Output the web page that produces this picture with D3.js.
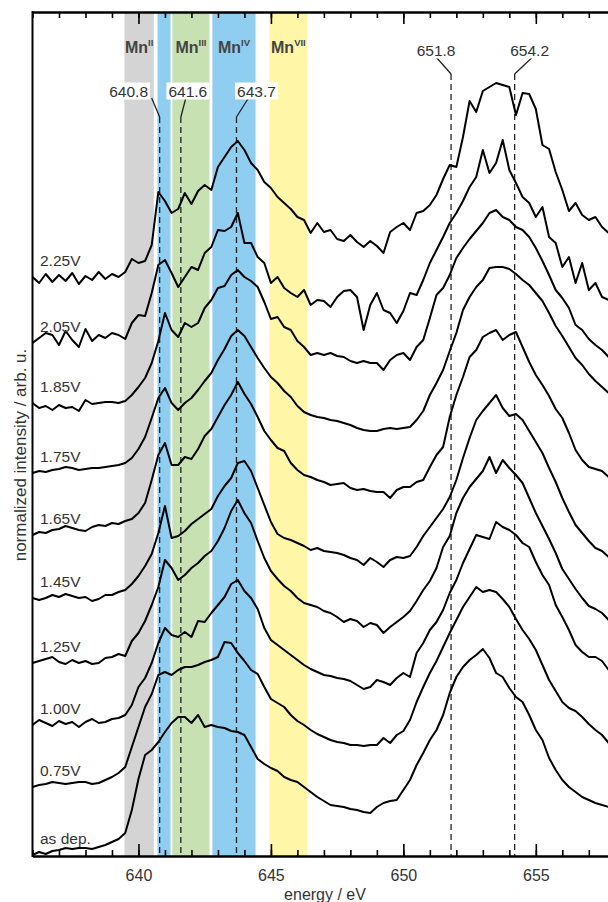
<!DOCTYPE html>
<html>
<head>
<meta charset="utf-8">
<script src="https://cdn.jsdelivr.net/npm/d3@7"></script>
<style>
body{margin:0;background:#fff;overflow:hidden;}
svg{display:block;font-family:"Liberation Sans",Arial,sans-serif;}
</style>
</head>
<body>
<div id="chart"></div>
<script>
// energy grid (eV), 0.25 eV step
var energy = d3.range(636, 658.001, 0.25);

var names = ["as dep.","0.75V","1.00V","1.25V","1.45V","1.65V","1.75V","1.85V","2.05V","2.25V"];
// vertical stacking offset of each spectrum (arb. u.)
var offsets = [1, 69, 131, 193, 258, 321, 383, 453, 513, 579];

// intensities relative to the offset
var sDep = [0,3,1,4,5,7,6,7,7,6,8,10,13,16,
  22,45,76,100,105,113,123,
  132,138,138,132,140,128,130,128,127,124,
  123,120,108,96,91,87,84,78,75,73,
  68,63,58,54,50,49,48,46,45,43,
  42,48,52,54,55,65,75,90,102,115,
  125,140,162,178,188,195,200,206,197,182,
  178,167,158,153,140,125,115,97,85,75,
  68,63,58,55,52,50,48,46];
var s075 = [0,2,3,5,4,3,4,5,5,3,4,7,10,14,
  20,40,60,80,93,112,115,
  112,117,120,120,122,125,127,130,145,144,
  134,126,117,113,100,88,84,80,72,66,
  62,57,53,50,47,45,44,42,42,41,
  42,42,49,44,52,56,67,85,100,114,
  126,140,154,167,180,190,200,195,197,195,
  188,180,168,157,148,137,122,107,96,85,
  79,76,70,63,57,52,44,42];
var s100 = [0,5,2,-1,4,1,3,-2,3,6,2,3,6,7,
  10,20,38,47,62,82,97,
  90,88,93,88,104,103,112,120,128,141,
  145,134,127,116,97,85,80,75,70,65,
  60,56,53,50,49,47,46,44,40,36,
  38,45,43,40,47,52,48,72,82,95,
  103,115,132,145,162,176,190,188,186,203,
  198,195,190,182,178,163,150,140,120,108,
  95,80,73,68,68,64,55,52];
var s125 = [0,2,4,6,1,-1,3,0,2,-1,0,5,6,9,
  7,22,30,42,58,76,103,
  95,83,88,95,100,107,112,122,135,152,
  163,150,140,122,105,92,84,77,72,65,
  60,58,56,52,50,46,41,44,42,36,
  40,38,30,36,41,46,52,62,73,82,
  95,116,127,150,165,176,184,192,206,190,
  203,195,188,180,165,150,137,124,110,94,
  84,74,65,57,54,50,43,42];
var s145 = [0,-2,0,3,1,4,2,0,1,-3,-1,3,3,6,
  8,14,22,32,44,65,92,
  60,62,67,74,79,84,89,102,112,120,
  135,137,127,110,93,76,64,60,58,55,
  52,48,50,47,46,45,43,40,38,33,
  40,36,31,38,41,40,42,51,62,71,
  80,89,101,118,140,160,178,187,195,203,
  190,182,184,178,167,156,145,130,116,100,
  86,73,65,57,50,47,41,40];
var s165 = [0,3,2,5,6,9,7,5,4,8,10,9,12,11,
  14,16,22,32,55,80,92,
  70,70,78,76,86,99,106,118,130,140,
  153,141,131,118,104,95,87,84,72,65,
  60,58,55,53,50,51,52,47,45,46,
  44,43,43,37,45,48,48,53,55,68,
  80,88,118,140,158,178,185,198,202,205,
  195,200,203,188,173,160,150,139,126,117,
  102,85,75,68,66,64,58,56];
var s175 = [0,2,1,3,4,6,5,3,4,5,5,6,7,8,
  10,15,24,36,55,75,85,
  70,63,70,75,83,92,100,113,124,137,
  143,137,126,115,105,96,90,82,76,67,
  61,58,56,55,53,52,50,48,45,43,
  42,42,44,45,44,45,46,53,62,78,
  90,103,122,140,163,176,186,193,205,206,
  206,204,199,193,188,180,172,160,147,137,
  126,115,108,99,92,86,80,76];
var s185 = [0,-5,-3,-7,-2,-5,-4,-8,3,-1,0,1,1,0,
  2,8,16,25,40,62,90,
  73,66,80,76,80,95,103,115,117,128,
  133,126,122,116,101,84,86,76,73,62,
  56,48,50,48,50,47,46,42,40,42,
  40,40,33,43,48,50,43,56,63,85,
  108,115,128,145,155,164,172,180,190,193,
  186,183,176,173,166,155,142,128,113,105,
  95,78,73,64,58,53,46,44];
var s205 = [0,5,10,8,-2,12,3,-4,14,2,8,5,10,8,
  4,20,28,27,50,78,83,
  70,56,66,76,73,90,96,113,112,116,
  130,100,100,86,80,60,66,55,50,46,
  53,38,43,42,36,46,52,53,46,13,
  38,50,33,30,20,32,50,48,63,80,
  93,106,120,130,142,156,166,193,170,180,
  203,173,160,146,140,126,136,106,100,76,
  86,60,80,53,60,46,43,40];
var s225 = [0,-6,3,-5,2,-4,4,-7,1,-3,5,-2,3,0,
  5,18,14,16,32,85,76,
  64,68,84,73,86,92,87,110,120,130,
  136,127,114,107,95,89,80,74,68,60,
  57,44,54,45,47,38,36,42,35,30,
  36,31,24,45,50,54,47,64,66,72,
  82,98,112,110,140,176,165,186,190,194,
  192,190,162,184,183,168,132,128,105,87,
  66,74,62,57,60,50,44,40];
var series = [sDep, s075, s100, s125, s145, s165, s175, s185, s205, s225];

// oxidation state bands (eV)
var bandLo = [639.47, 640.72, 641.28, 642.79, 644.94];
var bandHi = [640.58, 641.21, 642.68, 644.42, 646.38];
var bandState = ["II", "", "III", "IV", "VII"];
// marked peak positions (eV)
var peaks = [640.8, 641.6, 643.7, 651.8, 654.2];

var W = 608, H = 902;
var plotLeft = 32.5, plotTop = 12, plotBottom = 856;

var svg = d3.select("#chart").append("svg")
  .attr("width", W)
  .attr("height", H);

var x = d3.scaleLinear().domain([636, 658]).range([plotLeft, 615.3]);
var y = d3.scaleLinear().domain([0, 844]).range([plotBottom, plotTop]);

svg.append("clipPath").attr("id", "plotclip")
  .append("rect").attr("x", plotLeft).attr("y", plotTop)
  .attr("width", W - plotLeft).attr("height", plotBottom - plotTop);

var bandColor = ["#d4d4d4", "#8fcdf1", "#c7e1b2", "#8fcdf1", "#fff6a8"];
svg.selectAll("rect.band")
  .data(bandLo)
  .enter()
  .append("rect")
  .attr("class", "band")
  .attr("x", function(d) { return x(d); })
  .attr("y", plotTop)
  .attr("width", function(d, i) { return x(bandHi[i]) - x(d); })
  .attr("height", plotBottom - plotTop)
  .style("fill", function(d, i) { return bandColor[i]; });

// dashed peak markers
var lineTop = [117, 117, 117, 74, 74];
svg.selectAll("line.peak")
  .data(peaks)
  .enter()
  .append("line")
  .attr("x1", function(d) { return x(d); })
  .attr("x2", function(d) { return x(d); })
  .attr("y1", function(d, i) { return lineTop[i]; })
  .attr("y2", plotBottom)
  .style("stroke", "#222")
  .style("stroke-width", 1.3)
  .style("stroke-dasharray", "6,4");

// spectra
var line = d3.line()
  .x(function(d, i) { return x(energy[i]); });
var g = svg.append("g").attr("clip-path", "url(#plotclip)");
series.forEach(function(s, j) {
  line.y(function(d) { return y(offsets[j] + d); });
  g.append("path")
    .datum(s)
    .attr("d", line)
    .style("fill", "none")
    .style("stroke", "#000")
    .style("stroke-width", 2)
    .style("stroke-linejoin", "round");
});

// spectrum labels
svg.selectAll("text.lab")
  .data(names)
  .enter()
  .append("text")
  .attr("x", 40)
  .attr("y", function(d, i) { return y(offsets[i]) - 11; })
  .style("font-size", "15.5px")
  .style("fill", "#333")
  .text(function(d) { return d; });

// axes
var minor = d3.range(636, 659);
var major = [640, 645, 650, 655];
svg.append("g").attr("transform", "translate(0," + plotBottom + ")")
  .call(d3.axisBottom(x).tickValues(minor).tickSizeInner(-6).tickSizeOuter(0).tickFormat(""));
svg.append("g").attr("transform", "translate(0," + plotBottom + ")")
  .call(d3.axisBottom(x).tickValues(major).tickSizeInner(-12).tickSizeOuter(0).tickPadding(14));
svg.append("g").attr("transform", "translate(0," + plotTop + ")")
  .call(d3.axisTop(x).tickValues(minor).tickSizeInner(-6).tickSizeOuter(0).tickFormat(""));
svg.append("g").attr("transform", "translate(0," + plotTop + ")")
  .call(d3.axisTop(x).tickValues(major).tickSizeInner(-12).tickSizeOuter(0).tickFormat(""));
svg.selectAll(".domain").style("stroke-width", 2);
svg.selectAll(".tick line").style("stroke-width", 1.6);
svg.selectAll(".tick text").style("font-size", "16px").style("fill", "#333")
  .style("font-family", "'Liberation Sans',Arial,sans-serif");
svg.append("line")
  .attr("x1", plotLeft).attr("x2", plotLeft).attr("y1", plotTop - 1).attr("y2", plotBottom + 1)
  .style("stroke", "#000").style("stroke-width", 2);

svg.append("text")
  .attr("x", 325).attr("y", 900)
  .attr("text-anchor", "middle")
  .style("font-size", "16px").style("fill", "#333")
  .text("energy / eV");
svg.append("text")
  .attr("transform", "translate(26,455) rotate(-90)")
  .attr("text-anchor", "middle")
  .style("font-size", "17px").style("fill", "#333")
  .text("normalized intensity / arb. u.");

// Mn oxidation state labels
bandState.forEach(function(s, i) {
  if (!s) return;
  var t = svg.append("text")
    .attr("x", x((bandLo[i] + bandHi[i]) / 2))
    .attr("y", 53)
    .attr("text-anchor", "middle")
    .style("font-size", "16px")
    .style("font-weight", "bold")
    .style("fill", "#444");
  t.append("tspan").text("Mn");
  t.append("tspan").attr("dy", -7).style("font-size", "9.5px").text(s);
});

// peak value labels with leader lines
var labDx = [-31, 7, 20, -15, 15];
var labY = [91, 91, 91, 50, 50];
var leadDx = [-8, 5, 12, -15, 18];
var fmt = d3.format(".1f");
peaks.forEach(function(p, i) {
  var px = x(p);
  svg.append("line")
    .attr("x1", px + leadDx[i]).attr("y1", labY[i] + 7)
    .attr("x2", px).attr("y2", lineTop[i])
    .style("stroke", "#222").style("stroke-width", 1.3);
  var t = svg.append("text")
    .attr("x", px + labDx[i]).attr("y", labY[i] + 5.5)
    .attr("text-anchor", "middle")
    .style("font-size", "15.5px")
    .style("fill", "#333")
    .text(fmt(p));
  var bb = t.node().getBBox();
  svg.insert("rect", function() { return t.node(); })
    .attr("x", bb.x - 2).attr("y", bb.y)
    .attr("width", bb.width + 4).attr("height", bb.height)
    .style("fill", "#fff");
});
</script>
</body>
</html>
